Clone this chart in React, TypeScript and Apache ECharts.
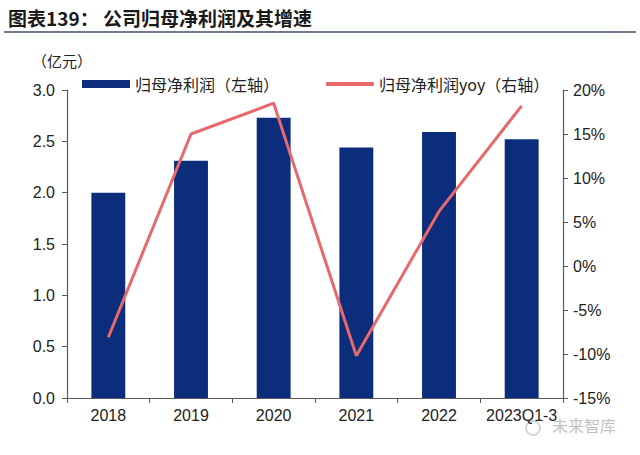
import React, { useEffect, useRef } from "react";
import * as echarts from "echarts";

const categories = ["2018", "2019", "2020", "2021", "2022", "2023Q1-3"];
const profit = [2.0, 2.31, 2.73, 2.44, 2.59, 2.52];
const profitYoy = [-8.1, 15.0, 18.5, -10.2, 6.2, 18.2];
const leftTicks = { min: 0, max: 3, interval: 0.5 };
const rightTicks = { min: -15, max: 20, interval: 5 };

const FONT = "'Liberation Sans', 'Noto Sans CJK SC', sans-serif";
const CJK = "'Noto Sans CJK SC', 'Liberation Sans', sans-serif";
const BAR = "#0B2D7B";
const LINE = "#E8696B";
const AXIS = "#595959";

export default function App() {
  const ref = useRef<HTMLDivElement>(null);
  useEffect(() => {
    if (!ref.current) return;
    const chart = echarts.init(ref.current, undefined, { renderer: "svg" });
    chart.setOption({
      animation: false,
      backgroundColor: "#ffffff",
      title: {
        text: "图表139： 公司归母净利润及其增速",
        left: 3,
        top: 3,
        textStyle: { fontFamily: CJK, fontSize: 19, fontWeight: "bold", color: "#1a1a1a" },
      },
      graphic: [
        {
          type: "line",
          shape: { x1: 4, y1: 32, x2: 636, y2: 32 },
          style: { stroke: "#3F4F63", lineWidth: 1.5 },
        },
        {
          type: "text",
          left: 32,
          top: 53,
          style: { text: "（亿元）", font: `15px ${CJK}`, fill: "#222222" },
        },
        {
          type: "ring",
          shape: { cx: 533, cy: 428, r: 8, r0: 6 },
          style: { fill: "rgba(160,160,160,0.45)" },
        },
        {
          type: "text",
          left: 552,
          top: 417,
          style: { text: "未来智库", font: `16px ${CJK}`, fill: "rgba(140,140,140,0.55)" },
        },
      ],
      legend: [
        {
          left: 77,
          top: 71,
          itemWidth: 48,
          itemHeight: 8,
          data: [{ name: "归母净利润（左轴）", icon: "rect" }],
          textStyle: { fontFamily: CJK, fontSize: 16, color: "#222222" },
        },
        {
          left: 321,
          top: 71,
          itemWidth: 48,
          itemHeight: 4,
          data: [{ name: "归母净利润yoy（右轴）", icon: "roundRect", itemStyle: { color: LINE } }],
          textStyle: { fontFamily: CJK, fontSize: 16, color: "#222222" },
        },
      ],
      grid: { left: 67, right: 77, top: 90, bottom: 57, containLabel: false },
      xAxis: {
        type: "category",
        data: categories,
        axisLine: { lineStyle: { color: AXIS, width: 1.2 } },
        axisTick: { show: true, alignWithLabel: false, length: 5, lineStyle: { color: AXIS } },
        axisLabel: { fontFamily: FONT, fontSize: 16, color: "#222222", margin: 9, interval: 0 },
      },
      yAxis: [
        {
          type: "value",
          ...leftTicks,
          position: "left",
          axisLine: { show: true, lineStyle: { color: AXIS, width: 1.2 } },
          axisTick: { show: true, length: 5, lineStyle: { color: AXIS } },
          splitLine: { show: false },
          axisLabel: {
            fontFamily: FONT,
            fontSize: 16,
            color: "#222222",
            margin: 12,
            formatter: (v: number) => v.toFixed(1),
          },
        },
        {
          type: "value",
          ...rightTicks,
          position: "right",
          axisLine: { show: true, lineStyle: { color: AXIS, width: 1.2 } },
          axisTick: { show: true, length: 5, lineStyle: { color: AXIS } },
          splitLine: { show: false },
          axisLabel: {
            fontFamily: FONT,
            fontSize: 16,
            color: "#222222",
            margin: 10,
            formatter: (v: number) => `${v}%`,
          },
        },
      ],
      series: [
        {
          name: "归母净利润（左轴）",
          type: "bar",
          data: profit,
          yAxisIndex: 0,
          barWidth: "41%",
          itemStyle: { color: BAR },
        },
        {
          name: "归母净利润yoy（右轴）",
          type: "line",
          data: profitYoy,
          yAxisIndex: 1,
          symbol: "none",
          lineStyle: { color: LINE, width: 3 },
          itemStyle: { color: LINE },
        },
      ],
    });
    return () => chart.dispose();
  }, []);
  return <div ref={ref} style={{ width: 640, height: 455, position: "absolute", left: 0, top: 0 }} />;
}
